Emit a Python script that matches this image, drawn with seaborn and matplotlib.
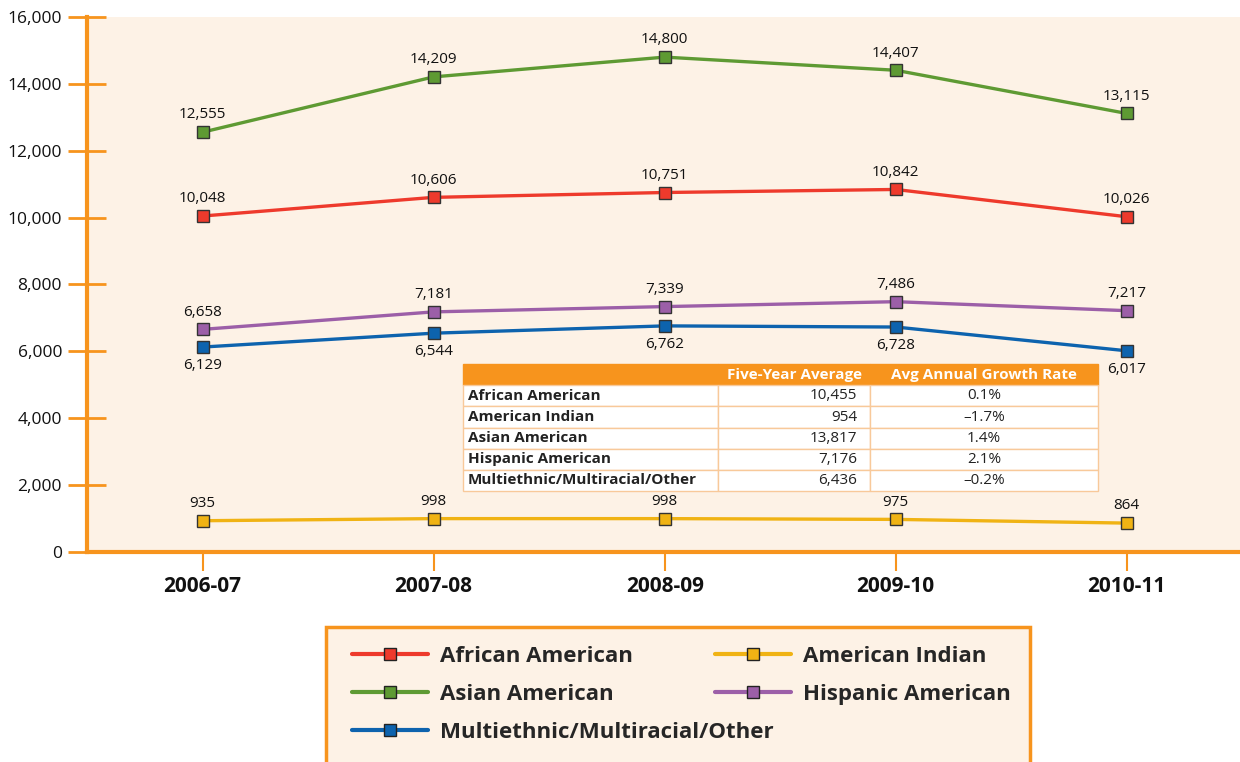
import matplotlib
matplotlib.use("Agg")
import matplotlib.pyplot as plt
from matplotlib.lines import Line2D
from matplotlib.patches import Rectangle
import seaborn as sns
import pandas as pd

years = ["2006-07", "2007-08", "2008-09", "2009-10", "2010-11"]
african = [10048, 10606, 10751, 10842, 10026]
indian = [935, 998, 998, 975, 864]
asian = [12555, 14209, 14800, 14407, 13115]
hispanic = [6658, 7181, 7339, 7486, 7217]
multi = [6129, 6544, 6762, 6728, 6017]

series_names = ["African American", "American Indian", "Asian American",
                "Hispanic American", "Multiethnic/Multiracial/Other"]
series_values = [african, indian, asian, hispanic, multi]
colors = ["#EE3A2C", "#F0B314", "#5E9A33", "#9C5FA8", "#0D63AE"]
label_below = [False, False, False, False, True]

yticks = [0, 2000, 4000, 6000, 8000, 10000, 12000, 14000, 16000]

table_cols = ["", "Five-Year Average", "Avg Annual Growth Rate"]
table_avg = ["10,455", "954", "13,817", "7,176", "6,436"]
table_growth = ["0.1%", "\u20131.7%", "1.4%", "2.1%", "\u20130.2%"]

ORANGE = "#F7941D"
CREAM = "#FDF2E6"

sns.set_theme(style="white")
plt.rcParams["font.family"] = ["Open Sans", "DejaVu Sans"]

rows = []
for name, vals in zip(series_names, series_values):
    for y, v in zip(years, vals):
        rows.append({"year": y, "value": v, "series": name})
df = pd.DataFrame(rows)

fig = plt.figure(figsize=(12.4, 7.62), dpi=100)
ax = fig.add_axes([0.0702, 0.2756, 0.9298, 0.7021])
ax.set_facecolor(CREAM)

sns.lineplot(data=df, x="year", y="value", hue="series", hue_order=series_names,
             palette=dict(zip(series_names, colors)), marker="s", markersize=9,
             markeredgecolor="#333333", markeredgewidth=1.0, linewidth=2.4,
             legend=False, ax=ax, sort=False)

for name, vals, below in zip(series_names, series_values, label_below):
    for i, v in enumerate(vals):
        off = -8 if below else 7
        ax.annotate(f"{v:,}", (i, v), xytext=(0, off), textcoords="offset points",
                    ha="center", va="top" if below else "bottom", fontsize=11, color="#111111")

ax.set_xlim(-0.5, 4.49)
ax.set_ylim(0, 16000)
ax.set_yticks(yticks)
ax.set_yticklabels([f"{t:,}" for t in yticks], fontsize=12.5, color="#111111")
ax.set_xticks(range(len(years)))
ax.set_xticklabels(years, fontsize=15, fontweight="bold", color="#111111")
ax.set_xlabel("")
ax.set_ylabel("")

for s in ["top", "right"]:
    ax.spines[s].set_visible(False)
for s in ["left", "bottom"]:
    ax.spines[s].set_color(ORANGE)
    ax.spines[s].set_linewidth(3)
ax.tick_params(axis="y", direction="inout", length=28, width=2, color=ORANGE, pad=4, left=True)
ax.tick_params(axis="x", direction="out", length=14, width=1.5, color=ORANGE, pad=3, bottom=True)

# summary table
cell_text = [[n, a, g] for n, a, g in zip(series_names, table_avg, table_growth)]
tbl = ax.table(cellText=cell_text, colLabels=table_cols,
               colWidths=[0.2212, 0.1318, 0.1978],
               bbox=[0.326, 0.114, 0.551, 0.237], cellLoc="center")
tbl.auto_set_font_size(False)
tbl.set_fontsize(11)
for (r, c), cell in tbl.get_celld().items():
    cell.set_edgecolor("#F8C99A")
    cell.set_linewidth(1)
    txt = cell.get_text()
    if r == 0:
        cell.set_facecolor(ORANGE)
        cell.set_edgecolor(ORANGE)
        txt.set_color("white")
        txt.set_fontweight("bold")
    else:
        cell.set_facecolor("white")
        txt.set_color("#222222")
        if c == 0:
            txt.set_fontweight("bold")
            cell.PAD = 0.02
            cell._loc = "left"
            txt.set_ha("left")
        elif c == 1:
            cell.PAD = 0.085
            cell._loc = "right"
            txt.set_ha("right")

# legend frame
fig.patches.append(Rectangle((0.263, -0.05), 0.568, 0.227, transform=fig.transFigure,
                             facecolor=CREAM, edgecolor=ORANGE, linewidth=2.5, zorder=0))
handles = [Line2D([], [], color=c, lw=3, marker="s", markersize=9,
                  markeredgecolor="#222222", markeredgewidth=1.0) for c in colors]
leg_kw = dict(loc="upper left", frameon=False, borderpad=0, borderaxespad=0,
              handlelength=3.4, handletextpad=0.55, labelspacing=0.76,
              prop={"weight": "bold", "size": 16})
col1 = [0, 2, 4]
col2 = [1, 3]
leg1 = fig.legend([handles[i] for i in col1], [series_names[i] for i in col1],
                  bbox_to_anchor=(0.2839, 0.152), **leg_kw)
leg2 = fig.legend([handles[i] for i in col2], [series_names[i] for i in col2],
                  bbox_to_anchor=(0.5766, 0.152), **leg_kw)

fig.savefig("out.png", dpi=100)
